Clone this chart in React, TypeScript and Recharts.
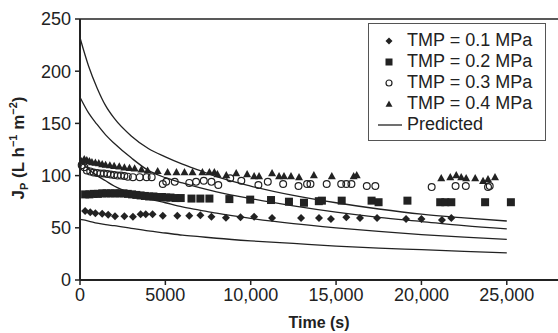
import React from 'react';
import {
  ComposedChart,
  Line,
  Scatter,
  XAxis,
  YAxis,
  ReferenceLine,
  Label
} from 'recharts';

// predicted curves, read at these times (s)
const predTimes = [0, 500, 1000, 1500, 2000, 3000, 4000, 5000, 6000, 7000, 8000, 10000, 12500, 15000, 17500, 20000, 22500, 25000];
const predA = [232, 205, 184, 167, 155, 138, 126, 118, 111, 105, 99, 90, 81, 74, 68, 63, 59.5, 56.5];
const predB = [175, 160, 149, 139, 131, 117, 105, 98, 93, 88.5, 84.5, 78, 71, 65, 60, 56, 52, 49];
const predC = [115, 106, 100, 95, 90, 83, 78, 74, 70, 67, 64, 59, 54, 50, 46.5, 43.5, 41, 39];
const predD = [58, 56.5, 54.5, 53, 52, 49.5, 47, 45, 43, 41.5, 40, 37.5, 35, 32.5, 30.5, 29, 27.5, 26];

// TMP = 0.1 MPa
const t01 = [300, 600, 900, 1300, 1650, 2050, 2600, 3100, 3550, 3850, 4250, 4850, 5700, 6400, 7050, 7700, 8550, 9400, 10200, 11250, 12950, 14000, 14700, 15600, 16400, 17400, 19100, 20000, 21200, 21750];
const j01 = [66, 65, 64, 63.5, 62.5, 61, 61, 60.5, 63, 63, 63, 61.5, 61.5, 61.5, 62, 60.5, 59.7, 60, 60.5, 59.5, 59.5, 59.5, 58.5, 60, 59.5, 59.5, 58.5, 58.5, 57.5, 59.5];

// TMP = 0.2 MPa
const t02 = [300, 550, 800, 1050, 1300, 1550, 1800, 2050, 2300, 2550, 2800, 3050, 3300, 3550, 3800, 4050, 4300, 4550, 4800, 5050, 5300, 5600, 5900, 6530, 7050, 7580, 8750, 9970, 11190, 12240, 13120, 13990, 14170, 15330, 17080, 17490, 19180, 21100, 21400, 21750, 23730, 25240];
const j02 = [82, 82, 82.5, 82.5, 83, 83, 83, 83, 83, 83, 82.5, 82, 81.5, 81, 80.5, 80, 80, 79.5, 79.5, 79, 79, 78.5, 78.5, 78, 78, 78, 77.5, 77, 76.6, 75, 74, 75.5, 76, 76, 76, 74.5, 76, 74.5, 74.5, 74.5, 74.5, 74.5];

// TMP = 0.3 MPa
const t03 = [100, 250, 400, 600, 800, 1000, 1200, 1400, 1600, 1800, 2000, 2200, 2400, 2600, 2800, 3100, 3500, 3900, 4200, 4850, 5050, 5550, 6400, 6800, 7250, 7700, 8100, 8800, 9450, 10450, 11000, 11900, 12800, 13300, 13500, 14450, 15300, 15600, 15900, 16800, 17300, 20600, 22000, 22600, 23900, 24000];
const j03 = [110, 108, 105, 104, 103, 102.5, 102, 102, 101.5, 101, 100.5, 100, 100, 99.5, 99, 98.5, 98.5, 98.5, 98.5, 92, 94, 94, 93, 94, 95, 94, 91, 97.5, 95, 91, 94, 92, 90, 92, 92, 92, 92, 92, 92, 90, 90, 89, 90, 90, 89, 90];

// TMP = 0.4 MPa
const t04 = [100, 250, 400, 550, 700, 900, 1100, 1300, 1500, 1750, 2000, 2300, 2600, 2900, 3200, 3600, 3960, 4550, 5130, 5650, 6120, 6590, 7170, 7580, 7870, 8050, 8570, 9150, 9790, 10200, 10490, 11250, 11660, 11950, 12360, 12830, 13700, 14750, 16030, 16210, 21160, 21690, 22040, 22330, 22620, 23150, 23610, 23900, 24310];
const j04 = [114, 116, 115, 114, 113, 112.5, 112, 111, 110.5, 110, 109.5, 109, 108, 107.5, 107, 106, 105, 104.5, 103.5, 103.5, 103.5, 103.5, 103.5, 103.4, 103.4, 101.5, 100.6, 102.5, 101.5, 99.6, 99.6, 102.5, 99.6, 99.6, 99.6, 98.7, 100.6, 99.6, 99.6, 100.6, 97.7, 98.7, 100.6, 98.7, 97.7, 97.7, 95, 96.7, 98.7];

const xTicks = [0, 5000, 10000, 15000, 20000, 25000];
const yTicks = [0, 50, 100, 150, 200, 250];
const legendLabels = ['TMP = 0.1 MPa', 'TMP = 0.2 MPa', 'TMP = 0.3 MPa', 'TMP = 0.4 MPa', 'Predicted'];

const toPoints = (ts: number[], js: number[]) => ts.map((t, i) => ({ t, j: js[i] }));

const INK = '#222';
const FONT = '"Liberation Sans", Arial, sans-serif';

const Diamond = ({ cx, cy, r = 4 }: any) => (
  <polygon points={`${cx},${cy - r} ${cx + r},${cy} ${cx},${cy + r} ${cx - r},${cy}`} fill={INK} />
);
const Square = ({ cx, cy, s = 8 }: any) => (
  <rect x={cx - s / 2} y={cy - s / 2} width={s} height={s} fill={INK} />
);
const Circle = ({ cx, cy, r = 3.4 }: any) => (
  <circle cx={cx} cy={cy} r={r} fill="none" stroke={INK} strokeWidth={1.2} />
);
const Triangle = ({ cx, cy, s = 8 }: any) => (
  <polygon points={`${cx},${cy - s * 0.5} ${cx + s * 0.5},${cy + s * 0.4} ${cx - s * 0.5},${cy + s * 0.4}`} fill={INK} />
);

const formatX = (v: number) => (v >= 10000 ? v.toLocaleString('en-US') : String(v));

const LegendBox = () => {
  const icons = [
    <Diamond cx={12} cy={10} r={3.5} />,
    <Square cx={12} cy={10} s={7} />,
    <Circle cx={12} cy={10} r={3} />,
    <Triangle cx={12} cy={10} s={7} />,
    <line x1={1} y1={10} x2={25} y2={10} stroke={INK} strokeWidth={1.3} />
  ];
  return (
    <div
      style={{
        position: 'absolute',
        left: 368,
        top: 23,
        border: '1.5px solid #555',
        width: 178,
        height: 118,
        boxSizing: 'border-box',
        padding: '6px 0 0 8px',
        fontFamily: FONT,
        fontSize: 18,
        color: INK,
        background: '#fff'
      }}
    >
      {legendLabels.map((label) => (
        <div key={label} style={{ display: 'flex', alignItems: 'center', height: 21 }}>
          <svg width={26} height={20} style={{ marginRight: 4 }}>
            {icons[legendLabels.indexOf(label)]}
          </svg>
          <span style={{ lineHeight: '21px' }}>{label}</span>
        </div>
      ))}
    </div>
  );
};

const YTitle = () => (
  <text
    x={24}
    y={148}
    transform="rotate(-90 24 148)"
    textAnchor="middle"
    fontFamily={FONT}
    fontSize={17}
    fontWeight="bold"
    fill={INK}
  >
    <tspan>J</tspan>
    <tspan fontSize={11} dy={4}>P</tspan>
    <tspan dy={-4}> (L h</tspan>
    <tspan fontSize={11} dy={-7}>−1</tspan>
    <tspan dy={7}> m</tspan>
    <tspan fontSize={11} dy={-7}>−2</tspan>
    <tspan dy={7}>)</tspan>
  </text>
);

export default function App() {
  const tickStyle = { fontFamily: FONT, fontSize: 18, fill: INK };
  return (
    <div style={{ position: 'absolute', left: 0, top: 0, width: 558, height: 333, background: '#fff' }}>
      <ComposedChart width={558} height={333} margin={{ top: 19, right: 0, bottom: 0, left: 0 }}>
        <XAxis
          dataKey="t"
          type="number"
          domain={[0, 28000]}
          ticks={xTicks}
          tickFormatter={formatX}
          tick={tickStyle}
          tickSize={5}
          tickMargin={3}
          height={53}
          axisLine={{ stroke: INK, strokeWidth: 2 }}
          tickLine={{ stroke: INK, strokeWidth: 1.5 }}
          allowDuplicatedCategory={false}
        >
          <Label value="Time (s)" position="insideBottom" offset={5} style={{ fontFamily: FONT, fontSize: 16, fontWeight: 'bold', fill: INK }} />
        </XAxis>
        <YAxis
          dataKey="j"
          type="number"
          domain={[0, 250]}
          ticks={yTicks}
          tick={tickStyle}
          tickSize={5}
          tickMargin={4}
          width={80}
          axisLine={{ stroke: INK, strokeWidth: 2 }}
          tickLine={{ stroke: INK, strokeWidth: 1.5 }}
          label={{ content: () => <YTitle /> }}
        />
        <ReferenceLine y={250} stroke={INK} strokeWidth={1.5} />
        {[predA, predB, predC, predD].map((series, i) => (
          <Line
            key={'p' + i}
            data={toPoints(predTimes, series)}
            dataKey="j"
            type="monotone"
            stroke={INK}
            strokeWidth={1.3}
            dot={false}
            activeDot={false}
            isAnimationActive={false}
            legendType="none"
          />
        ))}
        <Scatter data={toPoints(t01, j01)} dataKey="j" shape={(p: any) => <Diamond cx={p.cx} cy={p.cy} />} isAnimationActive={false} />
        <Scatter data={toPoints(t02, j02)} dataKey="j" shape={(p: any) => <Square cx={p.cx} cy={p.cy} />} isAnimationActive={false} />
        <Scatter data={toPoints(t03, j03)} dataKey="j" shape={(p: any) => <Circle cx={p.cx} cy={p.cy} />} isAnimationActive={false} />
        <Scatter data={toPoints(t04, j04)} dataKey="j" shape={(p: any) => <Triangle cx={p.cx} cy={p.cy} />} isAnimationActive={false} />
      </ComposedChart>
      <LegendBox />
    </div>
  );
}
